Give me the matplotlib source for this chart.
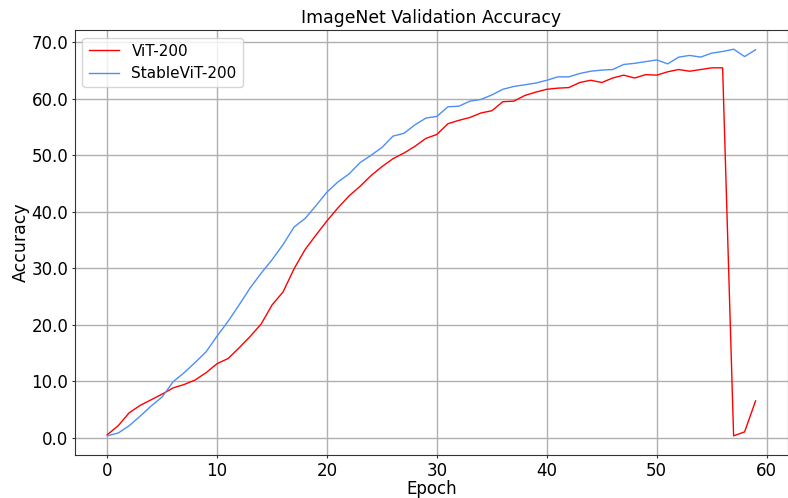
import numpy as np
import matplotlib

matplotlib.use("Agg")
import matplotlib.pyplot as plt
from matplotlib.ticker import FormatStrFormatter

# accuracy per epoch
epochs = list(range(60))
vit_200 = [
    0.5, 2.1, 4.4, 5.7, 6.7, 7.7, 8.8, 9.4, 10.2, 11.5,
    13.1, 14.0, 15.9, 17.9, 20.1, 23.5, 25.8, 29.9, 33.3, 35.9,
    38.4, 40.7, 42.8, 44.5, 46.4, 48.0, 49.4, 50.4, 51.6, 53.0,
    53.7, 55.6, 56.2, 56.7, 57.5, 57.9, 59.5, 59.6, 60.6, 61.2,
    61.7, 61.9, 62.0, 62.9, 63.3, 62.9, 63.7, 64.2, 63.7, 64.3,
    64.2, 64.8, 65.2, 64.9, 65.2, 65.5, 65.5, 0.3, 1.0, 6.5,
]
stable_vit_200 = [
    0.3, 0.8, 2.1, 3.8, 5.6, 7.2, 9.9, 11.5, 13.3, 15.2,
    18.0, 20.6, 23.5, 26.5, 29.1, 31.5, 34.2, 37.3, 38.8, 41.1,
    43.5, 45.3, 46.7, 48.7, 50.0, 51.4, 53.4, 53.9, 55.4, 56.6,
    56.9, 58.6, 58.7, 59.6, 59.9, 60.7, 61.7, 62.2, 62.5, 62.8,
    63.3, 63.9, 63.9, 64.5, 64.9, 65.1, 65.2, 66.1, 66.3, 66.6,
    66.9, 66.2, 67.4, 67.7, 67.4, 68.1, 68.4, 68.8, 67.5, 68.7,
]

fig = plt.figure(figsize=(7.88, 4.98), dpi=100)
ax = fig.add_axes([0.095, 0.086, 0.905, 0.854])
ax.plot(epochs, vit_200, color="red", lw=1.0, label="ViT-200")
ax.plot(epochs, stable_vit_200, color="#4d8ef7", lw=1.0, label="StableViT-200")

ax.set_title("ImageNet Validation Accuracy", fontsize=12.4, pad=5)
ax.set_xlabel("Epoch", fontsize=12, labelpad=0.5)
ax.set_ylabel("Accuracy", fontsize=12.5, labelpad=1)
ax.yaxis.set_major_formatter(FormatStrFormatter("%.1f"))
ax.tick_params(labelsize=12, color="#333333", length=2.2, pad=2.5)
ax.grid(True, color="#b0b0b0", lw=1.0)
for s in ax.spines.values():
    s.set_color("#333333")
ax.legend(loc="upper left", fontsize=11, framealpha=0.8)

fig.savefig("out.png", dpi=100)
